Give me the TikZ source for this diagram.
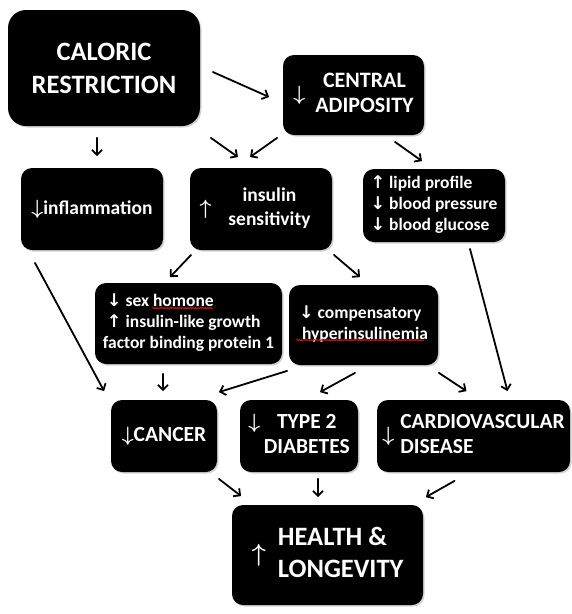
\documentclass[tikz,border=0pt]{standalone}
\usepackage{fontspec}
\setmainfont{Carlito}
\newfontfamily\arrowfont{DejaVu Sans}
\usetikzlibrary{arrows.meta,calc,shadows,decorations.pathmorphing}
\newcommand{\dn}{{\boldmath$\downarrow$}}
\newcommand{\upa}{{\boldmath$\uparrow$}}
\newcommand{\smdn}{{\arrowfont\bfseries ↓}}
\newcommand{\smup}{{\arrowfont\bfseries ↑}}
\begin{document}
\begin{tikzpicture}[x=1pt,y=-1pt,line join=round,line cap=round,>={Straight Barb[length=5pt,width=10pt]},line width=1.8pt]
	\tikzset{box/.style={fill=black,text=white,rounded corners=11pt,inner sep=0pt,align=center,
			drop shadow={shadow xshift=1.5pt,shadow yshift=-1.5pt,opacity=.35}}}
	\tikzset{fs/.style 2 args={font=\bfseries\fontsize{#1}{#2}\selectfont}}
	\tikzset{wavy/.style={red,line width=0.6pt,decorate,decoration={snake,amplitude=0.7pt,segment length=2.5pt}}}
	\useasboundingbox (0,0) rectangle (572,614);
	\node[box,rounded corners=18pt,minimum width=192pt,minimum height=116pt,fs={26.5}{33}] (cr) at (104,68) {CALORIC\\RESTRICTION};
	\node[box,minimum width=141pt,minimum height=80pt,fs={22}{25}] (ca) at (353.5,95) {\dn\hspace{10pt}\begin{tabular}{@{}c@{}}CENTRAL\\ADIPOSITY\end{tabular}};
	\node[box,minimum width=142pt,minimum height=82pt,fs={19.5}{24}] (infl) at (92,209) {\dn inflammation};
	\node[box,minimum width=142pt,minimum height=82pt,fs={19.5}{24}] (ins) at (261,209) {\upa\hspace{17pt}\begin{tabular}{@{}c@{}}insulin\\sensitivity\end{tabular}\kern12pt};
	\node[box,minimum width=142pt,minimum height=73pt,fs={17.5}{21}] (lip) at (434,205.5) {\begin{tabular}{@{}l@{}}\smup\ lipid profile\\\smdn\ blood pressure\\\smdn\ blood glucose\end{tabular}};
	\node[box,minimum width=187pt,minimum height=81pt,fs={17.5}{21}] (sex) at (188.5,323.5) {\begin{tabular}{@{}l@{}}\hspace{4pt}\smdn\ sex homone\\\hspace{4pt}\smup\ insulin-like growth\\factor binding protein 1\end{tabular}};
	\node[box,minimum width=149pt,minimum height=80pt,fs={17.5}{21}] (comp) at (363.5,325) {\begin{tabular}{@{}l@{}}\smdn\ compensatory\\\hspace{3pt}hyperinsulinemia\end{tabular}};
	\node[box,minimum width=106pt,minimum height=72pt,fs={21.5}{25}] (can) at (164,436) {\dn CANCER};
	\node[box,minimum width=118pt,minimum height=72pt,fs={21.5}{25}] (t2d) at (299,436) {\dn\,\begin{tabular}[t]{@{}c@{}}TYPE 2\\DIABETES\end{tabular}};
	\node[box,minimum width=193pt,minimum height=72pt,fs={21.5}{25}] (cvd) at (473.5,436) {\dn\hspace{6pt}\begin{tabular}{@{}l@{}}CARDIOVASCULAR\\DISEASE\end{tabular}};
	\node[box,minimum width=191pt,minimum height=100pt,fs={26.5}{32}] (hl) at (327.5,555) {\upa\hspace{12pt}\begin{tabular}{@{}l@{}}HEALTH \&\\LONGEVITY\end{tabular}};
	\draw[wavy] ($(sex.north west)+(58,26)$) -- ($(sex.north west)+(119,26)$);
	\draw[wavy] ($(comp.north west)+(8,56)$) -- ($(comp.north west)+(136,56)$);
	\draw[->] ($(cr.east)+(12,4)$) -- ($(ca.west)+(-13,2)$);
	\draw[->] ($(cr.south)+(-7,11)$) -- ($(infl.north)+(5,-11)$);
	\draw[->] ($(cr.south east)+(10,11)$) -- ($(ins.north)+(-23,-10)$);
	\draw[->] ($(ca.south west)+(-5,2)$) -- ($(ins.north)+(-11,-10)$);
	\draw[->] ($(ca.south)+(41.5,6)$) -- ($(lip.north)+(-12,-7)$);
	\draw[->] ($(infl.south)+(-57,12)$) -- ($(can.north west)+(-6,-8)$);
	\draw[->] ($(ins.south west)+(2,4)$) -- ($(sex.north)+(-18.5,-5)$);
	\draw[->] ($(ins.south east)+(1,4)$) -- ($(comp.north)+(-3.5,-7)$);
	\draw[->] ($(lip.south)+(36,6)$) -- ($(cvd.north)+(34,-8)$);
	\draw[->] ($(sex.south)+(-25.5,9)$) -- ($(can.north)+(-1,-8)$);
	\draw[->] ($(comp.south west)+(-1,5)$) -- ($(can.north east)+(1,-7)$);
	\draw[->] ($(comp.south)+(-8.5,7)$) -- ($(t2d.north)+(21,-7)$);
	\draw[->] ($(comp.south east)+(0,7)$) -- ($(cvd.north)+(-7,-8)$);
	\draw[->] ($(can.south east)+(1,6)$) -- ($(hl.north west)+(10,-8)$);
	\draw[->] ($(t2d.south)+(19,6)$) -- ($(hl.north)+(-9.5,-7)$);
	\draw[->] ($(cvd.south)+(-19,8)$) -- ($(hl.north east)+(2,-7)$);
\end{tikzpicture}
\end{document}
